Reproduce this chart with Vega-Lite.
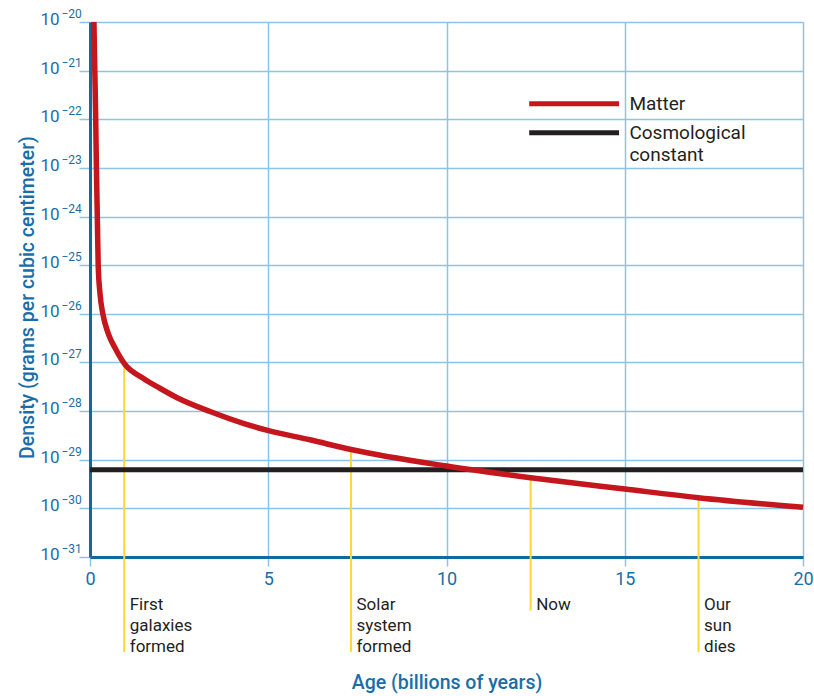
{
  "$schema": "https://vega.github.io/schema/vega-lite/v6.json",
  "width": 713,
  "height": 535,
  "autosize": "none",
  "padding": {"left": 90, "top": 22, "right": 11, "bottom": 139},
  "background": "white",
  "config": {
    "view": {"stroke": null},
    "font": "Roboto",
    "axis": {
      "domainColor": "#10699f",
      "domainWidth": 3,
      "gridColor": "#8dc3e4",
      "gridWidth": 1.5,
      "tickColor": "#8dc3e4",
      "tickWidth": 1.5,
      "labelColor": "#1a6ea8",
      "labelFont": "Roboto",
      "titleColor": "#1a6ea8",
      "titleFont": "Roboto",
      "titleFontWeight": 500,
      "titleFontSize": 19.5
    }
  },
  "datasets": {
    "density": [
      {"series": "Matter", "t": 0.11, "density": 1e-20},
      {"series": "Matter", "t": 0.135, "density": 1e-21},
      {"series": "Matter", "t": 0.16, "density": 1e-22},
      {"series": "Matter", "t": 0.18, "density": 1e-23},
      {"series": "Matter", "t": 0.205, "density": 1e-24},
      {"series": "Matter", "t": 0.23, "density": 1e-25},
      {"series": "Matter", "t": 0.28, "density": 2.63e-26},
      {"series": "Matter", "t": 0.36, "density": 1e-26},
      {"series": "Matter", "t": 0.51, "density": 3.98e-27},
      {"series": "Matter", "t": 0.7, "density": 2.0e-27},
      {"series": "Matter", "t": 0.97, "density": 9.3e-28},
      {"series": "Matter", "t": 1.5, "density": 4.68e-28},
      {"series": "Matter", "t": 1.96, "density": 2.95e-28},
      {"series": "Matter", "t": 2.43, "density": 1.91e-28},
      {"series": "Matter", "t": 3.37, "density": 9.8e-29},
      {"series": "Matter", "t": 4.3, "density": 5.6e-29},
      {"series": "Matter", "t": 5.01, "density": 3.98e-29},
      {"series": "Matter", "t": 6.17, "density": 2.57e-29},
      {"series": "Matter", "t": 7.32, "density": 1.62e-29},
      {"series": "Matter", "t": 10.0, "density": 7.4e-30},
      {"series": "Matter", "t": 12.36, "density": 4.27e-30},
      {"series": "Matter", "t": 15.0, "density": 2.5e-30},
      {"series": "Matter", "t": 17.06, "density": 1.66e-30},
      {"series": "Matter", "t": 20.0, "density": 1.05e-30},
      {"series": "Cosmological constant", "t": 0, "density": 6.2e-30},
      {"series": "Cosmological constant", "t": 20, "density": 6.2e-30}
    ],
    "events": [
      {"t": 0.96, "top": 9.3e-28, "bottom": 1.12e-33, "textY": 8.1e-33, "label": "First\ngalaxies\nformed"},
      {"t": 7.32, "top": 1.62e-29, "bottom": 1.12e-33, "textY": 8.1e-33, "label": "Solar\nsystem\nformed"},
      {"t": 12.36, "top": 4.27e-30, "bottom": 7.9e-33, "textY": 8.1e-33, "label": "Now"},
      {"t": 17.07, "top": 1.66e-30, "bottom": 1.12e-33, "textY": 8.1e-33, "label": "Our\nsun\ndies"}
    ],
    "legend": [
      {"series": "Matter", "x": 12.32, "x2": 14.84, "y": 2.09e-22, "tx": 15.13, "ty": 1.55e-22, "label": "Matter"},
      {"series": "Cosmological constant", "x": 12.32, "x2": 14.84, "y": 5.31e-23, "tx": 15.13, "ty": 3.94e-23, "label": "Cosmological\nconstant"}
    ]
  },
  "encoding": {
    "x": {
      "type": "quantitative",
      "scale": {"domain": [0, 20], "nice": false, "zero": false},
      "axis": {
        "title": "Age (billions of years)",
        "values": [0, 5, 10, 15, 20],
        "grid": true,
        "tickSize": 9,
        "labelFontSize": 18,
        "labelPadding": 4,
        "labelFlush": false,
        "titleY": 131,
        "titleBaseline": "alphabetic"
      }
    },
    "y": {
      "type": "quantitative",
      "scale": {"type": "log", "domain": [1e-31, 1e-20], "nice": false}
    }
  },
  "layer": [
    {
      "data": {"name": "events"},
      "mark": {"type": "rule", "color": "#fdd835", "strokeWidth": 2},
      "encoding": {
        "x": {"field": "t"},
        "y": {
          "field": "top",
          "axis": {
            "orient": "left",
            "title": "Density (grams per cubic centimeter)",
            "values": [1e-31, 1e-30, 1e-29, 1e-28, 1e-27, 1e-26, 1e-25, 1e-24, 1e-23, 1e-22, 1e-21, 1e-20],
            "grid": true,
            "tickSize": 11,
            "labelFontSize": 17,
            "labelPadding": 20,
            "labelOffset": -2.5,
            "labelFlush": false,
            "labelExpr": "'10'",
            "titleX": -57,
            "titleY": 275,
            "titleBaseline": "alphabetic"
          }
        },
        "y2": {"field": "bottom"}
      }
    },
    {
      "data": {"name": "events"},
      "mark": {"type": "text", "align": "left", "baseline": "alphabetic", "dx": 5.5, "fontSize": 17, "lineBreak": "\n", "lineHeight": 21, "color": "#231f20"},
      "encoding": {
        "x": {"field": "t"},
        "y": {
          "field": "textY",
          "axis": {
            "orient": "left",
            "title": null,
            "values": [1e-31, 1e-30, 1e-29, 1e-28, 1e-27, 1e-26, 1e-25, 1e-24, 1e-23, 1e-22, 1e-21, 1e-20],
            "grid": false,
            "domain": false,
            "ticks": false,
            "tickSize": 0,
            "labelFontSize": 12,
            "labelAlign": "left",
            "labelBaseline": "middle",
            "labelPadding": 29,
            "labelOffset": -8.5,
            "labelFlush": false,
            "labelExpr": "'−' + abs(round(log(datum.value) / LN10))"
          }
        },
        "text": {"field": "label", "type": "nominal"}
      }
    },
    {
      "data": {"name": "density"},
      "transform": [{"filter": "datum.series == 'Cosmological constant'"}],
      "mark": {"type": "line", "strokeWidth": 5},
      "encoding": {
        "x": {"field": "t"},
        "y": {"field": "density", "axis": null},
        "color": {
          "field": "series",
          "type": "nominal",
          "scale": {"domain": ["Matter", "Cosmological constant"], "range": ["#c4161c", "#231f20"]},
          "legend": null
        }
      }
    },
    {
      "data": {"name": "density"},
      "transform": [{"filter": "datum.series == 'Matter'"}],
      "mark": {"type": "line", "strokeWidth": 5.5, "interpolate": "monotone"},
      "encoding": {
        "x": {"field": "t"},
        "y": {"field": "density", "axis": null},
        "color": {"field": "series", "type": "nominal", "legend": null}
      }
    },
    {
      "data": {"name": "legend"},
      "mark": {"type": "rule", "strokeWidth": 5},
      "encoding": {
        "x": {"field": "x"},
        "x2": {"field": "x2"},
        "y": {"field": "y", "axis": null},
        "color": {"field": "series", "type": "nominal", "legend": null}
      }
    },
    {
      "data": {"name": "legend"},
      "mark": {"type": "text", "align": "left", "baseline": "alphabetic", "fontSize": 19, "lineBreak": "\n", "lineHeight": 22, "color": "#231f20"},
      "encoding": {
        "x": {"field": "tx"},
        "y": {"field": "ty", "axis": null},
        "text": {"field": "label", "type": "nominal"}
      }
    }
  ],
  "resolve": {"axis": {"y": "independent"}}
}
